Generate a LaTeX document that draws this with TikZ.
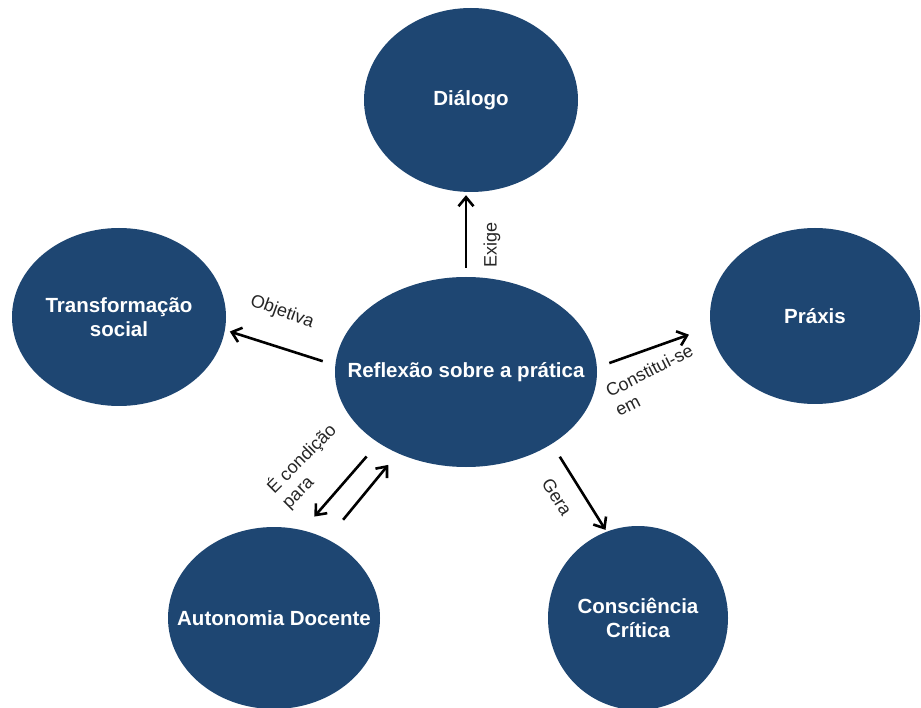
\documentclass[tikz,border=0pt]{standalone}
\usepackage{fontspec}
\setmainfont{Liberation Sans}
\usetikzlibrary{shapes.geometric,arrows.meta}
\definecolor{navy}{HTML}{1E4672}
\begin{document}
\begin{tikzpicture}[x=1pt,y=-1pt,
 blob/.style={ellipse, fill=navy, draw=none, inner sep=0pt},
 btxt/.style={text=white, font=\fontsize{20.5}{24}\selectfont\bfseries, align=center, inner sep=0pt},
 lbl/.style={font=\fontsize{18}{21}\selectfont, text=black!85, inner sep=0pt},
 arr/.style={-{Straight Barb[length=9pt,width=15pt]}, line width=2.6pt, black}
]
\useasboundingbox[fill=white] (0,0) rectangle (921,708);

\node[blob, minimum width=262pt, minimum height=190pt, label={[btxt]center:Reflexão sobre a prática}] (c) at (466,372) {};
\node[blob, minimum width=214pt, minimum height=184pt, label={[btxt]center:Diálogo}] (d) at (471,100) {};
\node[blob, minimum width=214pt, minimum height=178pt, label={[btxt]center:Transformação\\social}] (t) at (119,317) {};
\node[blob, minimum width=210pt, minimum height=176pt, label={[btxt]center:Práxis}] (p) at (815,316) {};
\node[blob, minimum width=212pt, minimum height=182pt, label={[btxt]center:Autonomia Docente}] (a) at (274,618) {};
\node[blob, minimum width=180pt, minimum height=184pt, label={[btxt]center:Consciência\\Crítica}] (k) at (638,618) {};

\draw[arr, shorten <=9pt, shorten >=3pt] (c.north) -- (c.north |- d.south);
\draw[arr, shorten <=13pt, shorten >=5pt] (c.177.6) -- (t.-7.7);
\draw[arr, shorten <=13pt, shorten >=23pt] (c.2.8) -- (p.186.3);
\draw[arr, shorten <=18pt, shorten >=18pt] (c.219.4) -- (a.72);
\draw[arr, shorten <=25pt, shorten >=15pt] (a.56.6) -- (c.230);
\draw[arr, shorten <=15pt, shorten >=2pt] (c.-40.8) -- (k.110);

\node[lbl, rotate=90] (lexige) at (492,245) {Exige};
\node[lbl, rotate=-20] (lobj) at (282,312) {Objetiva};
\node[lbl, rotate=27, align=left] (lconst) at (654,380) {Constitui-se\\em};
\node[lbl, rotate=45, align=left] (lcond) at (309,466) {É condição\\para};
\node[lbl, rotate=-58] (lgera) at (557,497) {Gera};
\end{tikzpicture}
\end{document}
